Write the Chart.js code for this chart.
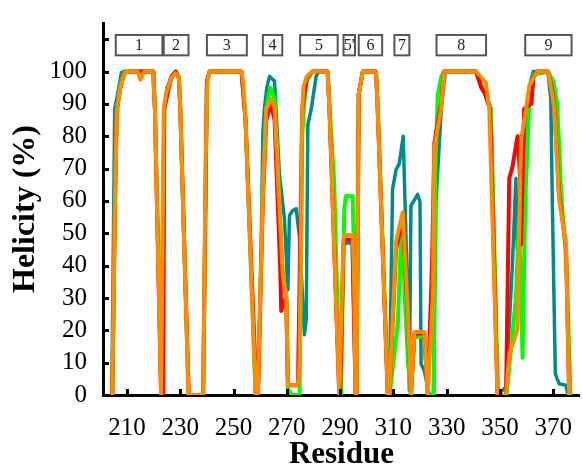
<!DOCTYPE html>
<html>
<head>
<meta charset="utf-8">
<script src="https://cdn.jsdelivr.net/npm/chart.js@4.4.0/dist/chart.umd.min.js"></script>
<style>
  html, body { margin: 0; padding: 0; background: #fff; }
</style>
</head>
<body>
<canvas id="helixChart" width="582" height="469"></canvas>
<script>
// Residue / helicity points, one pair of arrays per run
const tealRes = [204.3, 205.4, 206.5, 207.9, 208.5, 220, 220.5, 222.9, 223.5, 224, 225, 227, 228.5, 229.5, 230, 233.1,
  238.6, 240, 241, 253, 254.5, 258.3, 259.2, 260.5, 261, 261.6, 262.5, 263.5, 265.4, 267.2, 269.1, 270.4, 271, 272.2,
  273.5, 274.8, 276.6, 277.3, 277.9, 279.2, 281, 282, 285.3, 286, 289.7, 290, 291.3, 292.3, 294.5, 295.8, 296.2, 297,
  298.5, 303.5, 304.1, 307.9, 308.5, 309.7, 311, 312.2, 313.7, 315.4, 316, 316.6, 319.1, 320, 320.4, 321.6, 323.5, 325,
  326, 328, 329.5, 341, 344, 345.5, 346.6, 349.1, 352.3, 354.7, 356, 356.5, 358, 359.5, 361, 362.5, 368, 369.1, 369.7,
  370.8, 372.2, 374.8, 375.4];
const tealVal = [0, 88.5, 93, 99.6, 100, 100, 88.5, 0, 60, 88.5, 95, 99, 100, 98, 88.5, 0,
  0, 97, 100, 100, 85, 0, 0, 50, 81, 88.5, 95, 98.5, 97, 68.5, 54.6, 32.5, 55.5, 57,
  57.6, 48.6, 18.6, 23.5, 83.5, 88.5, 98.5, 100, 100, 88.5, 0, 0, 46, 47, 47, 0, 0, 93,
  100, 100, 88.5, 0, 0, 63.6, 69.6, 71.5, 80, 28.5, 1.5, 58.5, 62, 59.6, 9.6, 7.5, 0, 0,
  60, 88.5, 100, 100, 94, 90, 88.5, 0, 2.5, 40.5, 67, 45, 55, 85, 95, 100, 100, 91.6, 58.5,
  6.5, 3.5, 3, 0.5];

const greenRes = [204.5, 205.5, 206.2, 207.5, 209, 220, 220.5, 222.9, 223.5, 224, 225, 227, 228.5, 229.5, 230, 233.1,
  238.6, 240, 241, 253, 254.5, 258.3, 259.1, 261, 262.3, 263.8, 265.4, 268.3, 269.8, 270.4, 271.6, 274.8, 275.8, 276.5,
  277.5, 279.5, 285.3, 286.1, 287.8, 289.9, 290.3, 291.6, 292.2, 294.7, 295.2, 296, 296.3, 297, 298.5, 303.5, 304.2,
  308, 308.6, 311.7, 312.9, 313.5, 314.3, 315.5, 316.6, 317.9, 321.6, 323.2, 325.2, 325.8, 326.6, 328, 329, 341, 343.5,
  345, 346.6, 349.3, 352.5, 356, 357.2, 358.5, 359.5, 361, 362.5, 368, 370, 371.5, 373, 375, 376.5];
const greenVal = [0, 62, 88.5, 96, 100, 100, 88.5, 0, 60, 88, 94, 98.5, 100, 98, 88.5, 0,
  0, 97, 100, 100, 85, 0, 0, 65, 88.5, 95, 92, 40, 30, 2, 0, 0, 80, 90,
  97, 100, 100, 88.5, 65.5, 0, 0, 58, 61.5, 61.5, 45, 0, 0, 93, 100, 100, 88.5,
  0, 0, 22.5, 48.6, 51.6, 30, 10, 0, 18, 18, 0, 0, 70, 92.5, 98.5, 100, 100, 95,
  92, 88.5, 0, 0, 30, 55, 11.5, 60, 90, 99, 100, 97, 90, 62, 40, 0];

const redRes = [204.5, 205.5, 206.2, 207.5, 209, 210.5, 219.8, 220.5, 222.8, 223.6, 224, 226.5, 228.3, 229.5, 230, 233.2,
  238.6, 240, 241, 253, 254.5, 258.5, 259.2, 261, 262.3, 264, 265.4, 267.5, 267.9, 268.5, 269.8, 270.4, 274.2, 275.8,
  277.5, 279.7, 285.3, 286, 289.7, 290, 291.3, 292, 294.7, 295.8, 296.2, 297, 298.5, 303.5, 304.1, 307.9, 308.5, 311,
  313.5, 315.4, 316.6, 317.9, 321.6, 322.9, 324.5, 325.4, 327.9, 329, 341, 343, 344.5, 346.3, 349.1, 352.3, 353.5,
  354.7, 356.6, 357.5, 357.9, 359.1, 361.8, 362.6, 364, 368, 369.5, 370.5, 372.2, 374.8, 376];
const redVal = [0, 60, 88, 95, 99.5, 100, 100, 88, 0, 0, 88.5, 98, 100, 98, 88.5, 0,
  0, 97, 100, 100, 85, 2.5, 0, 60, 85, 90, 85, 40, 26, 28, 30, 3, 3, 88.5,
  98, 100, 100, 88.5, 0, 0, 47, 48, 48, 0, 0, 93, 100, 100, 88.5, 0, 0, 45,
  55, 25, 0, 19, 19, 0, 40, 78, 90, 100, 100, 95, 93, 88.5, 0, 0, 67,
  70.5, 80, 68.5, 46.5, 88.5, 90, 98.5, 100, 100, 95, 88.5, 62, 46, 0];

const orangeRes = [204.5, 205.5, 206.2, 207.5, 209, 210.5, 214, 215, 216.5, 219.8, 220.5, 222.8, 223.0, 223.8, 224.8,
  226.6, 228.3, 229.5, 230, 233.1, 238.6, 239.5, 240.2, 241, 253, 253.7, 254.5, 258.3, 259.1, 261, 262.3, 264.2,
  265.4, 268.5, 269.8, 270.4, 274.2, 274.8, 275.8, 276.3, 277.5, 279.7, 285.3, 286, 289.7, 289.9, 291.3, 291.8,
  294.7, 295.2, 295.8, 296.2, 297, 298.5, 303.5, 304.1, 307.9, 308.5, 311, 313.5, 315.4, 316.6, 317.9, 321.6, 322.9,
  324.7, 325.4, 327.9, 329.1, 341, 344.7, 346, 349.1, 352.3, 353.5, 356.6, 357.2, 357.9, 359.8, 361, 364, 368, 369.1,
  370.4, 372.2, 374.8, 376];
const orangeVal = [0, 60, 88, 95, 99.5, 100, 100, 97.5, 100, 100, 88, 0, 0, 88.5, 93.5,
  98, 99.5, 98.5, 88.5, 0, 0, 70, 97, 100, 100, 96, 85, 0, 0, 61.5, 88.5, 91.5,
  88.5, 36.6, 30.6, 3, 3, 10, 88.5, 95.5, 98.5, 100, 100, 88.5, 0, 0, 48.6, 49.5,
  49.5, 38, 0, 0, 93, 100, 100, 88.5, 0, 0, 47.5, 56.5, 26.5, 0, 19.5, 19.5, 0,
  28.5, 76.5, 88.5, 100, 100, 96.6, 88.5, 0, 0, 12.6, 20.4, 48.6, 78.6, 88.5, 95.6, 100, 100, 95.6,
  88.5, 60.6, 46.5, 0];

// helix annotation boxes along the top (residue ranges)
const helixLabels = ['1', '2', '3', '4', '5', "5'", '6', '7', '8', '9'];
const helixStart = [205.8, 223.8, 240, 261, 275, 291.3, 297, 310.4, 326.2, 359.5];
const helixEnd = [223.3, 233.1, 255, 268.3, 289.1, 295.6, 305.8, 316, 344.8, 376.9];

const xTicks = [210, 230, 250, 270, 290, 310, 330, 350, 370];
const yTicks = [0, 10, 20, 30, 40, 50, 60, 70, 80, 90, 100, 110];

const serif = "'Liberation Serif', 'Times New Roman', serif";

function toPoints(res, val) {
    return res.map((r, i) => ({ x: r, y: val[i] }));
}

// inward tick marks and the numbered helix boxes
const overlayPlugin = {
    id: 'overlay',
    afterDraw(chart) {
        const { ctx, scales: { x, y } } = chart;
        ctx.save();
        ctx.strokeStyle = '#000';
        ctx.lineWidth = 3;
        x.ticks.forEach(t => {
            const px = Math.round(x.getPixelForValue(t.value)) + 0.5;
            ctx.beginPath();
            ctx.moveTo(px, y.bottom);
            ctx.lineTo(px, y.bottom - 6);
            ctx.stroke();
        });
        y.ticks.forEach(t => {
            const py = Math.round(y.getPixelForValue(t.value)) + 0.5;
            ctx.beginPath();
            ctx.moveTo(x.left, py);
            ctx.lineTo(x.left + 6, py);
            ctx.stroke();
        });

        const top = y.getPixelForValue(111.3);
        const bottom = y.getPixelForValue(105);
        ctx.lineWidth = 2;
        ctx.strokeStyle = '#555';
        ctx.fillStyle = '#222';
        ctx.font = '16px ' + serif;
        ctx.textAlign = 'center';
        ctx.textBaseline = 'middle';
        helixLabels.forEach((label, i) => {
            const x0 = x.getPixelForValue(helixStart[i]);
            const x1 = x.getPixelForValue(helixEnd[i]);
            ctx.strokeRect(x0, top, x1 - x0, bottom - top);
            ctx.fillText(label, (x0 + x1) / 2, (top + bottom) / 2 + 1);
        });
        ctx.restore();
    }
};

const ctx = document.getElementById('helixChart').getContext('2d');
const helixChart = new Chart(ctx, {
    type: 'line',
    data: {
        datasets: [
            { data: toPoints(orangeRes, orangeVal), borderColor: '#ff8c00', borderWidth: 4 },
            { data: toPoints(redRes, redVal), borderColor: '#ff0000', borderWidth: 4 },
            { data: toPoints(greenRes, greenVal), borderColor: '#00ff00', borderWidth: 4 },
            { data: toPoints(tealRes, tealVal), borderColor: '#008b8b', borderWidth: 3.5 }
        ]
    },
    options: {
        responsive: false,
        animation: false,
        layout: { padding: { top: 12, right: 1, left: 0, bottom: 0 } },
        elements: {
            point: { radius: 0 },
            line: { tension: 0, borderJoinStyle: 'round', borderCapStyle: 'round', fill: false }
        },
        plugins: { legend: { display: false }, tooltip: { enabled: false } },
        scales: {
            x: {
                type: 'linear',
                min: 201,
                max: 380,
                afterBuildTicks: s => { s.ticks = xTicks.map(v => ({ value: v })); },
                afterFit: s => { s.height = 74; },
                grid: { display: false },
                border: { display: true, color: '#000', width: 3 },
                ticks: { color: '#000', padding: 10, maxRotation: 0, font: { family: serif, size: 25 } },
                title: { display: true, text: 'Residue', color: '#000', padding: { top: 0, bottom: 0 },
                         font: { family: serif, size: 31, weight: 'bold', lineHeight: 0.9 } }
            },
            y: {
                min: 0,
                max: 115,
                afterBuildTicks: s => { s.ticks = yTicks.map(v => ({ value: v })); },
                afterFit: s => { s.width = 103; },
                grid: { display: false },
                border: { display: true, color: '#000', width: 3 },
                ticks: { color: '#000', padding: 8, font: { family: serif, size: 25 },
                         callback: v => (v <= 100 ? v : '') },
                title: { display: true, text: 'Helicity (%)', color: '#000', padding: { top: 7, bottom: 0 },
                         font: { family: serif, size: 32, weight: 'bold' } }
            }
        }
    },
    plugins: [overlayPlugin]
});
</script>
</body>
</html>
